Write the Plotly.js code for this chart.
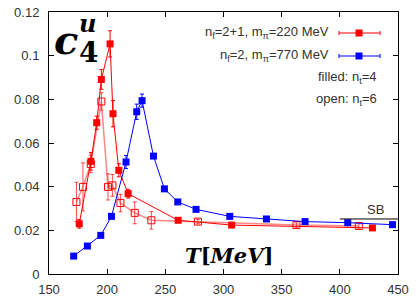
<!DOCTYPE html>
<html><head><meta charset="utf-8">
<script src="https://cdn.plot.ly/plotly-3.0.1.min.js"></script>
<style>html,body{margin:0;padding:0;background:#fff}#c{width:419px;height:301px}</style>
</head><body><div id="c"></div>
<script>
// red, nf=2+1, filled (nt=4)
var redFilledT = [176, 186, 191, 195, 202.5, 205, 210, 218, 261, 307, 428];
var redFilledC = [0.023, 0.0516, 0.0693, 0.0891, 0.1054, 0.0734, 0.0475, 0.0368, 0.0246, 0.0224, 0.0211];
var redFilledE = [0.002, 0.004, 0.003, 0.0045, 0.006, 0.006, 0.003, 0.002, 0.001, 0.001, 0.001];
// red, nf=2+1, open (nt=6)
var redOpenT = [173.6, 179.2, 185.9, 195, 200.7, 204.5, 211.4, 223.7, 238, 278, 362.7, 416.3];
var redOpenC = [0.033, 0.0399, 0.0504, 0.079, 0.0399, 0.0406, 0.0325, 0.028, 0.0246, 0.024, 0.0224, 0.022];
var redOpenE = [0.009, 0.011, 0.004, 0.004, 0.006, 0.005, 0.004, 0.005, 0.004, 0.001, 0.001, 0.001];
// blue, nf=2, filled (nt=4)
var blueT = [171.2, 183, 194.5, 203.7, 216.2, 225.4, 230, 239.8, 249.2, 260.7, 276.4, 305.4, 336.9, 370.1, 406.8, 445.3];
var blueC = [0.0082, 0.0128, 0.0177, 0.0264, 0.0513, 0.0743, 0.0794, 0.054, 0.039, 0.033, 0.0296, 0.0264, 0.0252, 0.024, 0.0235, 0.0226];
var blueE = [0.0005, 0.0005, 0.0008, 0.001, 0.003, 0.0035, 0.003, 0.001, 0.001, 0.001, 0.0008, 0.0005, 0.0005, 0.0005, 0.0005, 0.0005];
var sbValue = 0.0252;
var sbRange = [400, 450];
var xTicks = [150, 200, 250, 300, 350, 400, 450];
var yTicks = [0, 0.02, 0.04, 0.06, 0.08, 0.1, 0.12];
var yTickText = ['0', '0.02', '0.04', '0.06', '0.08', '0.1', '0.12'];
var legendLabels = ['n<sub>f</sub>=2+1, m<sub>π</sub>=220 MeV', 'n<sub>f</sub>=2, m<sub>π</sub>=770 MeV', 'filled: n<sub>t</sub>=4', 'open: n<sub>t</sub>=6'];

var RED = '#ff0000', BLUE = '#0000ff';
function err(arr, color){return {type:'data', array:arr, visible:true, color:color, thickness:1, width:2};}
var traces = [
 {x:redOpenT, y:redOpenC, mode:'lines+markers', error_y:err(redOpenE,'rgba(255,0,0,0.7)'),
  line:{color:'rgba(255,70,70,0.65)', width:1.5}, marker:{symbol:'square-open', size:7, color:RED, line:{width:1, color:RED}}},
 {x:redFilledT, y:redFilledC, mode:'lines+markers', error_y:err(redFilledE,RED),
  line:{color:RED, width:1}, marker:{symbol:'square', size:7, color:RED}},
 {x:blueT, y:blueC, mode:'lines+markers', error_y:err(blueE,BLUE),
  line:{color:BLUE, width:1}, marker:{symbol:'square', size:7, color:BLUE}}
];

var tf = {family:'Liberation Sans, Arial, sans-serif', size:13, color:'#333'};
var lf = {family:'Liberation Sans, Arial, sans-serif', size:13, color:'#333'};
function px(x){return (x-49)/349;}
function py(y){return (274-y)/262;}
var ann = [];
var ly = [33, 56];
for (var i=0;i<2;i++){
  ann.push({xref:'paper', yref:'paper', x:px(331), y:py(ly[i]), xanchor:'right', yanchor:'middle', text:legendLabels[i], showarrow:false, font:lf});
}
ann.push({xref:'paper', yref:'paper', x:px(379), y:py(77), xanchor:'right', yanchor:'middle', text:legendLabels[2], showarrow:false, font:lf});
ann.push({xref:'paper', yref:'paper', x:px(379), y:py(99), xanchor:'right', yanchor:'middle', text:legendLabels[3], showarrow:false, font:lf});
var serif = 'DejaVu Serif, serif';
ann.push({xref:'paper', yref:'paper', x:px(52), y:py(39), xanchor:'left', yanchor:'middle', text:'<b><i>c</i></b>', showarrow:false, font:{family:serif, size:40, color:'#000'}});
ann.push({xref:'paper', yref:'paper', x:px(77), y:py(24), xanchor:'left', yanchor:'middle', text:'<b><i>u</i></b>', showarrow:false, font:{family:serif, size:24, color:'#000'}});
ann.push({xref:'paper', yref:'paper', x:px(77), y:py(52), xanchor:'left', yanchor:'middle', text:'<b>4</b>', showarrow:false, font:{family:serif, size:28, color:'#000'}});
ann.push({xref:'paper', yref:'paper', x:px(183), y:py(255), xanchor:'left', yanchor:'middle', text:'<b><i>T</i>[<i>MeV</i>]</b>', showarrow:false, font:{family:serif, size:21, color:'#000'}});
ann.push({xref:'x', yref:'paper', x:sbRange[0]+ (sbRange[1]-sbRange[0])*0.62, y:py(209), xanchor:'center', yanchor:'middle', text:'SB', showarrow:false, font:lf});

var shapes = [
 {type:'line', xref:'x', yref:'y', x0:sbRange[0], x1:sbRange[1], y0:sbValue, y1:sbValue, line:{color:'#000', width:1}}
];
var legCol = [RED, BLUE];
for (var i=0;i<2;i++){
  var y = py(ly[i]);
  shapes.push({type:'line', xref:'paper', yref:'paper', x0:px(339), x1:px(380), y0:y, y1:y, line:{color:legCol[i], width:1}});
  shapes.push({type:'line', xref:'paper', yref:'paper', x0:px(339), x1:px(339), y0:y-0.008, y1:y+0.008, line:{color:legCol[i], width:1}});
  shapes.push({type:'line', xref:'paper', yref:'paper', x0:px(380), x1:px(380), y0:y-0.008, y1:y+0.008, line:{color:legCol[i], width:1}});
  shapes.push({type:'rect', xref:'paper', yref:'paper', x0:px(355.5), x1:px(362.5), y0:y-3.5/262, y1:y+3.5/262, fillcolor:legCol[i], line:{width:0}});
}

var layout = {
  width:419, height:301, margin:{l:49, r:21, t:12, b:27},
  paper_bgcolor:'#fff', plot_bgcolor:'#fff', showlegend:false,
  xaxis:{range:[150,450], tickvals:xTicks, ticks:'inside', ticklen:5, mirror:'ticks', showline:true, linecolor:'#000', linewidth:1, showgrid:false, zeroline:false, tickfont:tf, tickcolor:'#000', ticklabelstandoff:3},
  yaxis:{range:[0,0.12], tickvals:yTicks, ticktext:yTickText, ticks:'inside', ticklen:5, mirror:'ticks', showline:true, linecolor:'#000', linewidth:1, showgrid:false, zeroline:false, tickfont:tf, tickcolor:'#000', ticklabelstandoff:6},
  annotations:ann, shapes:shapes
};
Plotly.newPlot('c', traces, layout, {displayModeBar:false, staticPlot:true});
</script></body></html>
